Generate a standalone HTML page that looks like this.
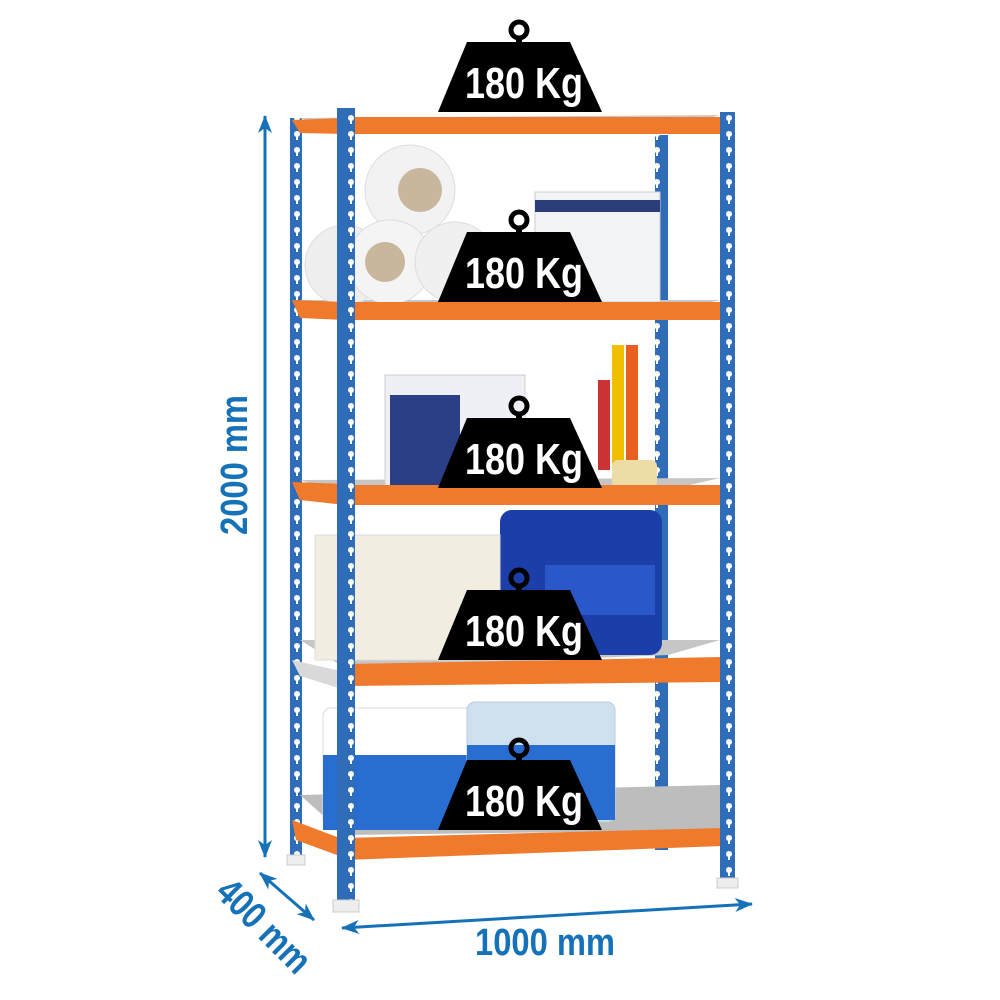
<!DOCTYPE html>
<html><head><meta charset="utf-8"><style>
html,body{margin:0;padding:0;background:#fff}
svg{display:block}
.w{font-family:"Liberation Sans",sans-serif;font-weight:bold;fill:#fff;font-size:44px}
.d{font-family:"Liberation Sans",sans-serif;font-weight:bold;fill:#1572b8;font-size:38px}
</style></head><body>
<svg width="1000" height="1000" viewBox="0 0 1000 1000" xmlns="http://www.w3.org/2000/svg">
<defs>
<pattern id="holes" width="18" height="16" patternUnits="userSpaceOnUse">
<circle cx="9" cy="6" r="3" fill="#fff"/><rect x="8" y="6" width="2" height="6" fill="#fff"/>
</pattern>
<marker id="ar" markerWidth="18" markerHeight="14" refX="17" refY="7" orient="auto-start-reverse" markerUnits="userSpaceOnUse">
<path d="M0,0 L18,7 L0,14 L5,7z" fill="#1572b8"/></marker>
<g id="wt">
<circle cx="519" cy="30" r="8" fill="none" stroke="#000" stroke-width="5"/>
<rect x="516" y="36" width="6" height="8" fill="#000"/>
<polygon points="467,42 570,42 602,112 438,112" fill="#000"/>
<text x="465" y="98" textLength="118" lengthAdjust="spacingAndGlyphs" class="w">180 Kg</text>
</g>
</defs>

<rect x="290" y="118" width="12" height="745" fill="#2f6db8"/>
<rect x="290" y="118" width="12" height="745" fill="url(#holes)"/>
<rect x="655" y="135" width="13" height="715" fill="#2f6db8"/>
<rect x="655" y="135" width="13" height="715" fill="url(#holes)"/>

<polygon points="300,118 720,115 668,130 345,133" fill="#c9c9c9"/>
<polygon points="300,300 720,300 668,312 345,318" fill="#c6c6c6"/>
<polygon points="300,480 720,478 668,490 345,495" fill="#c6c6c6"/>
<polygon points="300,640 720,640 668,655 345,668" fill="#c6c6c6"/>
<polygon points="300,795 720,785 720,830 345,835" fill="#bdbdbd"/>

<circle cx="410" cy="190" r="45" fill="#f2f2f2" stroke="#ddd"/><circle cx="420" cy="190" r="22" fill="#c8b79d"/>
<circle cx="345" cy="265" r="40" fill="#eee" stroke="#ddd"/>
<circle cx="390" cy="262" r="42" fill="#f4f4f4" stroke="#ddd"/><circle cx="385" cy="262" r="20" fill="#c8b79d"/>
<circle cx="455" cy="262" r="40" fill="#f0f0f0" stroke="#ddd"/>
<rect x="535" y="192" width="125" height="110" fill="#f2f3f7" stroke="#ccc"/>
<rect x="535" y="200" width="125" height="12" fill="#2c3e7a"/>
<rect x="385" y="375" width="140" height="115" fill="#eef0f6" stroke="#ccc"/>
<rect x="390" y="395" width="70" height="90" fill="#2b3f86"/>
<rect x="598" y="380" width="12" height="90" fill="#c33"/>
<rect x="612" y="345" width="12" height="120" fill="#f0c000"/>
<rect x="626" y="345" width="12" height="120" fill="#e86020"/>
<rect x="612" y="460" width="45" height="28" rx="6" fill="#ecdca6"/>
<rect x="500" y="510" width="162" height="145" rx="12" fill="#1b3ea8"/>
<rect x="545" y="565" width="110" height="50" fill="#2b58c9"/>
<rect x="315" y="535" width="185" height="125" fill="#f1ede0" stroke="#ddd"/>
<rect x="323" y="708" width="155" height="120" rx="8" fill="#fff" stroke="#ddd"/>
<rect x="323" y="755" width="155" height="75" fill="#2a6dd0"/>
<rect x="467" y="702" width="148" height="120" rx="8" fill="#cfe0ee" stroke="#bcd"/>
<rect x="467" y="745" width="148" height="75" fill="#2a6dd0"/>

<polygon points="292,120 345,118 345,134 300,133" fill="#f07a2b"/>
<polygon points="292,300 345,302 345,320 300,318" fill="#f07a2b"/>
<polygon points="292,482 345,484 345,505 300,500" fill="#f07a2b"/>
<polygon points="292,660 345,672 345,690 300,676" fill="#d9d9d9"/>
<polygon points="292,820 345,840 345,858 296,840" fill="#f07a2b"/>
<rect x="345" y="117" width="378" height="17" fill="#f07a2b"/>
<rect x="345" y="302" width="378" height="18" fill="#f07a2b"/>
<rect x="345" y="485" width="378" height="20" fill="#f07a2b"/>
<polygon points="345,664 722,657 722,682 345,686" fill="#f07a2b"/>
<polygon points="345,838 722,828 722,846 345,860" fill="#f07a2b"/>

<rect x="337" y="108" width="18" height="800" fill="#2f6db8"/>
<rect x="337" y="108" width="18" height="800" fill="url(#holes)"/>
<rect x="720" y="112" width="15" height="772" fill="#2f6db8"/>
<rect x="720" y="112" width="15" height="772" fill="url(#holes)"/>
<rect x="333" y="900" width="26" height="12" fill="#eee" stroke="#ccc"/>
<rect x="717" y="878" width="21" height="10" fill="#eee" stroke="#ccc"/>
<rect x="287" y="855" width="18" height="10" fill="#eee" stroke="#ccc"/>

<use href="#wt"/>
<use href="#wt" y="190"/>
<use href="#wt" y="376"/>
<use href="#wt" y="548"/>
<use href="#wt" y="718"/>

<line x1="265" y1="116" x2="265" y2="857" stroke="#1572b8" stroke-width="3" marker-start="url(#ar)" marker-end="url(#ar)"/>
<text class="d" transform="translate(247,465) rotate(-90)" x="-70" textLength="140" lengthAdjust="spacingAndGlyphs">2000 mm</text>
<line x1="260" y1="873" x2="314" y2="920" stroke="#1572b8" stroke-width="3" marker-start="url(#ar)" marker-end="url(#ar)"/>
<text class="d" transform="translate(255,935) rotate(45)" x="-58" textLength="116" lengthAdjust="spacingAndGlyphs">400 mm</text>
<line x1="342" y1="928" x2="752" y2="904" stroke="#1572b8" stroke-width="3" marker-start="url(#ar)" marker-end="url(#ar)"/>
<text class="d" x="475" y="955" textLength="140" lengthAdjust="spacingAndGlyphs">1000 mm</text>
</svg>
</body></html>
